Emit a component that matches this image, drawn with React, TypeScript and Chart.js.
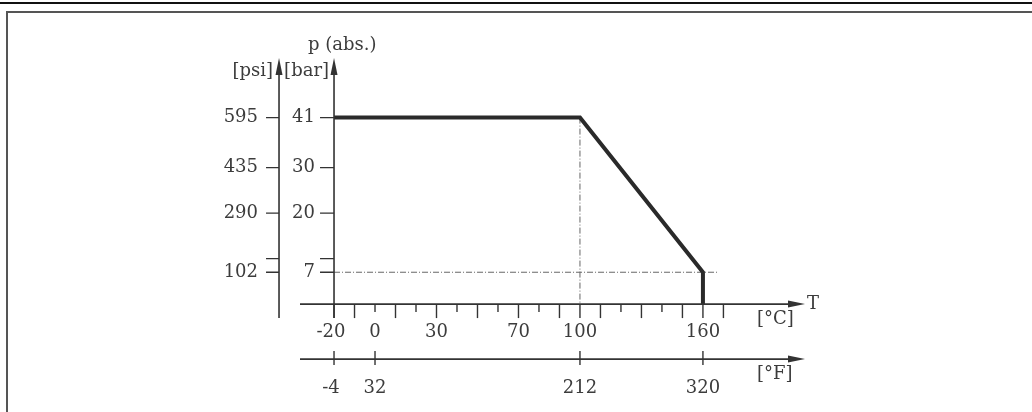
import React, { useEffect, useRef } from "react";
import { Chart, registerables } from "chart.js";

Chart.register(...registerables);

// ---- data ----
const curveTempC = [-20, 100, 160, 160];
const curvePressureBar = [41, 41, 7, 0];

const guideVTempC = [100, 100];
const guideVBar = [41, 0];
const guideHTempC = [-20, 167];
const guideHBar = [7, 7];

const barTicks = [41, 30, 20, 10, 7];
const barLabels = ["41", "30", "20", "", "7"];
const psiLabels = ["595", "435", "290", "", "102"];

const celsiusTicks = [-20, -10, 0, 10, 20, 30, 40, 50, 60, 70, 80, 90, 100, 110, 120, 130, 140, 150, 160, 170];
const celsiusLongTicks = [-20, -10, 10, 30, 50, 70, 90, 100, 110, 130, 150, 160, 170];
const celsiusLabels = [-20, 0, 30, 70, 100, 160];
const fahrenheitLabels = [-4, 32, 212, 320];

const X_MIN = -36.6;
const X_MAX = 209.8;
const Y_MIN = -3.06;
const Y_MAX = 54.1;

const FONT = '18px "DejaVu Serif"';
const AXIS = "#333333";
const TEXT = "#3c3c3c";

function arrow(ctx: CanvasRenderingContext2D, x: number, y: number, dir: "up" | "right") {
  const L = 17, W = 3.5;
  ctx.beginPath();
  if (dir === "up") {
    ctx.moveTo(x, y);
    ctx.lineTo(x - W, y + L);
    ctx.lineTo(x + W, y + L);
  } else {
    ctx.moveTo(x, y);
    ctx.lineTo(x - L, y - W);
    ctx.lineTo(x - L, y + W);
  }
  ctx.closePath();
  ctx.fill();
}

function drawLabel(ctx: CanvasRenderingContext2D, text: string, x: number, y: number) {
  // center the digits on the tick; a minus sign hangs to the left
  let shift = 0;
  if (text.startsWith("-")) shift = -ctx.measureText("-").width / 2;
  ctx.fillText(text, x + shift, y);
}

const axesPlugin = {
  id: "diagramAxes",
  afterDatasetsDraw(chart: any) {
    const ctx: CanvasRenderingContext2D = chart.ctx;
    const xs = chart.scales.x;
    const ys = chart.scales.y;
    const X = (v: number) => xs.getPixelForValue(v);
    const Y = (v: number) => ys.getPixelForValue(v);
    const fToC = (f: number) => ((f - 32) * 5) / 9;

    const barX = X(-20);
    const psiX = barX - 55;
    const cY = Y(0);
    const fY = cY + 55;
    const top = Y(Y_MAX);
    const bottom = Y(Y_MIN);
    const left = X(X_MIN);
    const right = X(X_MAX);

    ctx.save();
    ctx.strokeStyle = AXIS;
    ctx.fillStyle = AXIS;
    ctx.lineWidth = 1.6;
    ctx.setLineDash([]);

    // vertical axes
    for (const ax of [barX, psiX]) {
      ctx.beginPath();
      ctx.moveTo(ax, bottom);
      ctx.lineTo(ax, top + 8);
      ctx.stroke();
      arrow(ctx, ax, top, "up");
    }
    // horizontal axes
    for (const ay of [cY, fY]) {
      ctx.beginPath();
      ctx.moveTo(left, ay);
      ctx.lineTo(right - 8, ay);
      ctx.stroke();
      arrow(ctx, right, ay, "right");
    }

    // y ticks
    ctx.lineWidth = 1.4;
    barTicks.forEach((v) => {
      const y = Y(v);
      ctx.beginPath();
      ctx.moveTo(barX - 14, y);
      ctx.lineTo(barX, y);
      ctx.moveTo(psiX - 13, y);
      ctx.lineTo(psiX, y);
      ctx.stroke();
    });

    // celsius ticks
    celsiusTicks.forEach((v) => {
      const x = X(v);
      const len = celsiusLongTicks.includes(v) ? 14 : 8;
      ctx.beginPath();
      ctx.moveTo(x, cY);
      ctx.lineTo(x, cY + len);
      ctx.stroke();
    });

    // fahrenheit ticks
    fahrenheitLabels.forEach((f) => {
      const x = X(fToC(f));
      ctx.beginPath();
      ctx.moveTo(x, fY - 8);
      ctx.lineTo(x, fY + 6);
      ctx.stroke();
    });

    // text
    ctx.fillStyle = TEXT;
    ctx.font = FONT;
    ctx.textBaseline = "middle";

    ctx.textAlign = "right";
    barTicks.forEach((v, i) => {
      const y = Y(v);
      if (barLabels[i]) ctx.fillText(barLabels[i], barX - 19, y);
      if (psiLabels[i]) ctx.fillText(psiLabels[i], psiX - 21, y);
    });
    ctx.fillText("[bar]", barX - 5, top + 13);
    ctx.fillText("[psi]", psiX - 6, top + 13);

    ctx.textAlign = "center";
    celsiusLabels.forEach((v) => drawLabel(ctx, String(v), X(v), cY + 28));
    fahrenheitLabels.forEach((f) => drawLabel(ctx, String(f), X(fToC(f)), fY + 29));

    ctx.textAlign = "left";
    ctx.fillText("p (abs.)", barX - 26, top - 13);
    ctx.fillText("T", right + 2, cY);
    ctx.fillText("[°C]", right - 48, cY + 15);
    ctx.fillText("[°F]", right - 48, fY + 15);

    ctx.restore();
  },
};

export default function App() {
  const ref = useRef<HTMLCanvasElement | null>(null);

  useEffect(() => {
    if (!ref.current) return;
    const toPts = (xsArr: number[], ysArr: number[]) => xsArr.map((x, i) => ({ x, y: ysArr[i] }));
    const chart = new Chart(ref.current, {
      type: "scatter",
      data: {
        datasets: [
          {
            data: toPts(curveTempC, curvePressureBar),
            showLine: true,
            borderColor: "#2a2a2a",
            borderWidth: 4,
            pointRadius: 0,
            borderJoinStyle: "miter",
            borderCapStyle: "butt",
            tension: 0,
          } as any,
          {
            data: toPts(guideVTempC, guideVBar),
            showLine: true,
            borderColor: "#666666",
            borderWidth: 1,
            borderDash: [6, 2, 1, 2],
            pointRadius: 0,
          } as any,
          {
            data: toPts(guideHTempC, guideHBar),
            showLine: true,
            borderColor: "#666666",
            borderWidth: 1,
            borderDash: [6, 2, 1, 2],
            pointRadius: 0,
          } as any,
        ],
      },
      options: {
        animation: false,
        responsive: false,
        maintainAspectRatio: false,
        layout: { padding: { left: 300, right: 227, top: 58, bottom: 94 } },
        plugins: { legend: { display: false }, tooltip: { enabled: false } },
        scales: {
          x: { type: "linear", min: X_MIN, max: X_MAX, display: false },
          y: { type: "linear", min: Y_MIN, max: Y_MAX, display: false },
        },
      },
      plugins: [axesPlugin],
    });
    return () => chart.destroy();
  }, []);

  return (
    <div style={{ position: "fixed", left: 0, top: 0, width: 1032, height: 412, background: "#fff", overflow: "hidden" }}>
      <div style={{ position: "absolute", left: 0, right: 0, top: 2, borderTop: "2px solid #111" }} />
      <div
        style={{
          position: "absolute",
          left: 6,
          top: 11,
          right: -4,
          bottom: -4,
          borderLeft: "2px solid #555",
          borderTop: "2px solid #555",
        }}
      />
      <canvas ref={ref} width={1032} height={412} style={{ position: "absolute", left: 0, top: 0 }} />
    </div>
  );
}
